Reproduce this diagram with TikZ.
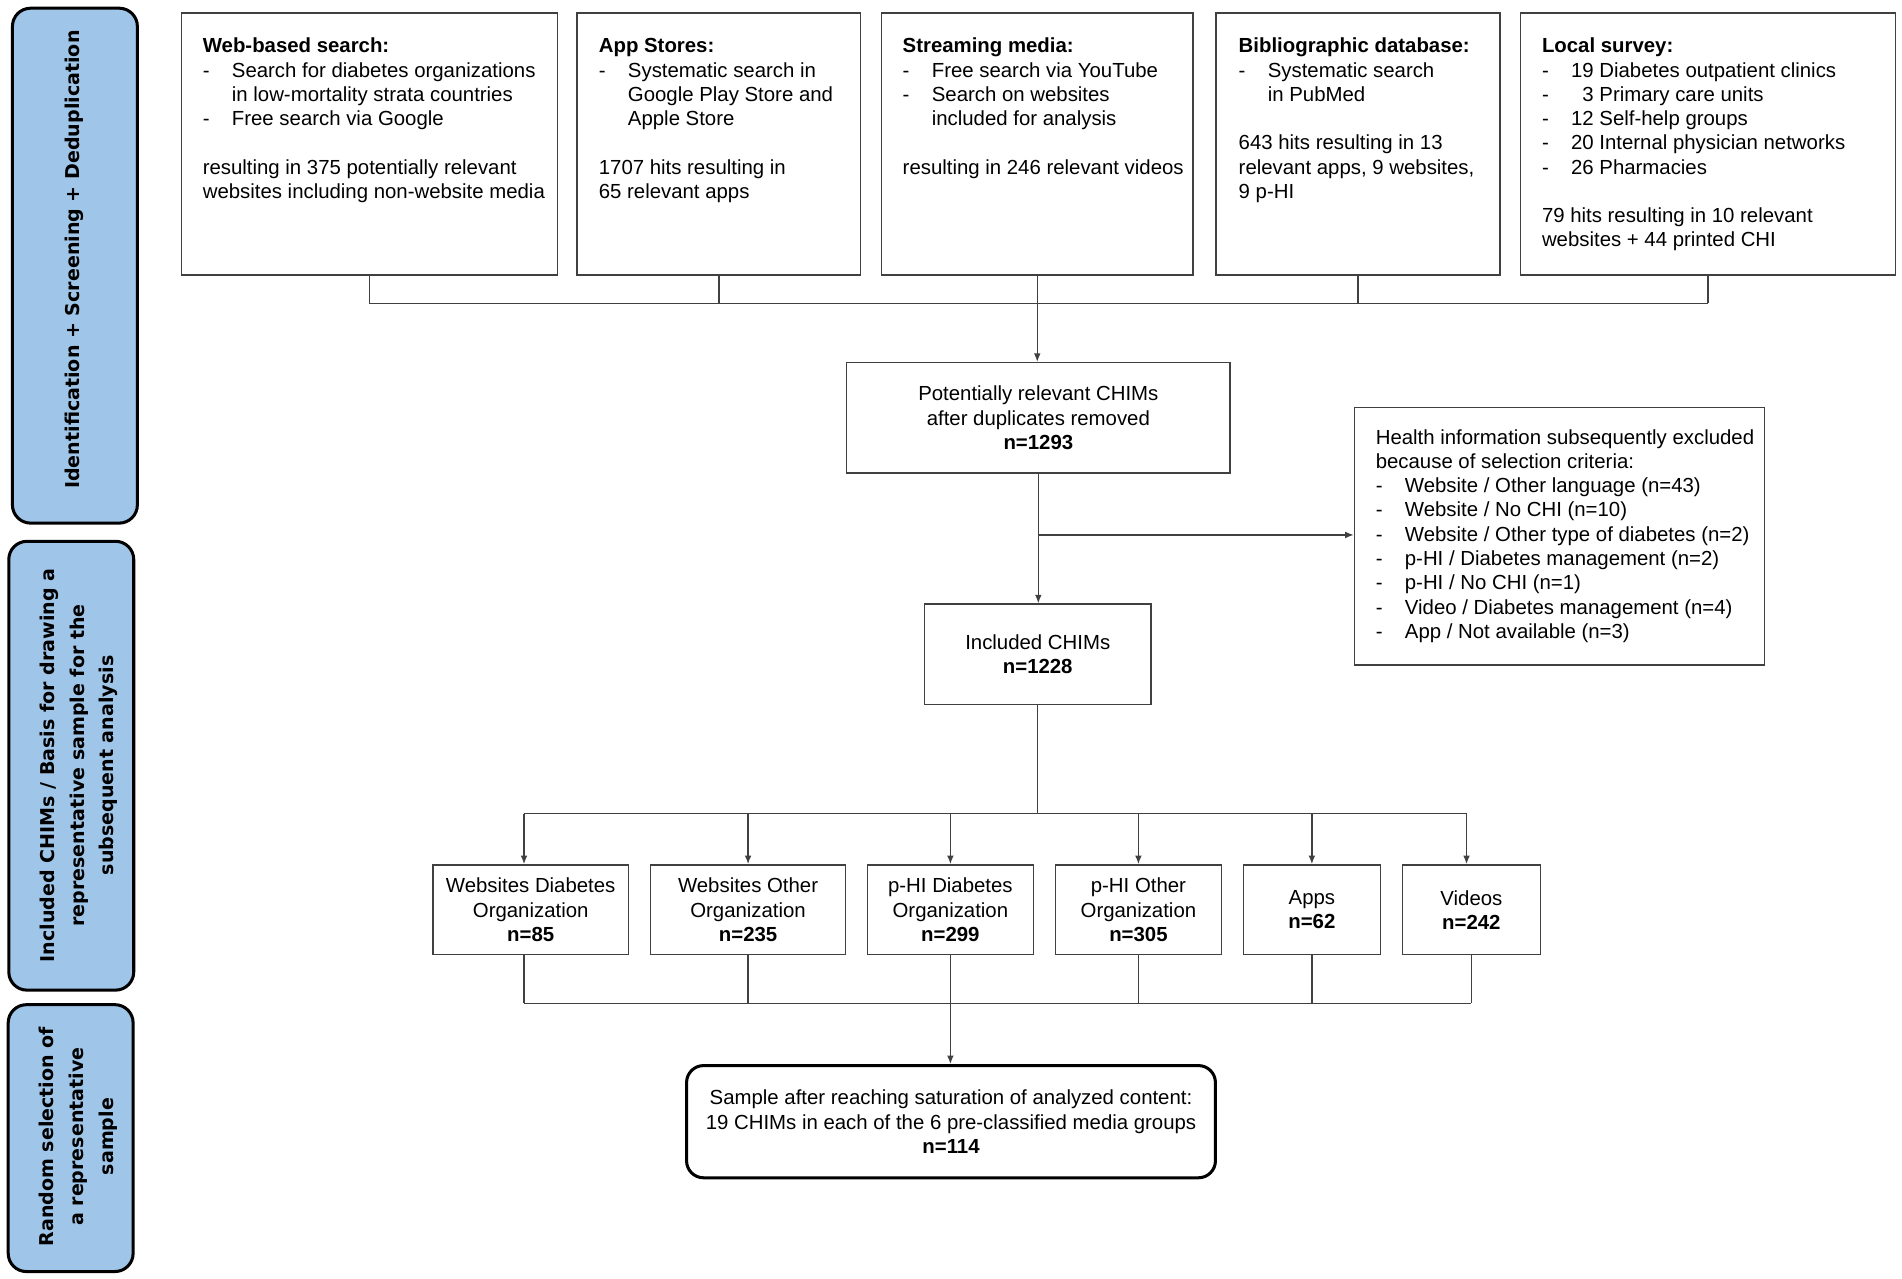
\documentclass[tikz,border=0pt]{standalone}
\usepackage{fontspec}
\setmainfont{Liberation Sans}
\newfontfamily\blfont{DejaVu Sans}
\usetikzlibrary{arrows.meta}
\definecolor{sky}{HTML}{9FC5E8}
\definecolor{linegray}{HTML}{404040}
\newcommand\dashitem[1]{\makebox[24pt][l]{-}#1}
\newcommand\contline[1]{\hspace*{24pt}#1}
\begin{document}
\begin{tikzpicture}[x=1pt,y=-1pt,
  box/.style={draw=linegray, line width=1.2pt, rectangle, inner sep=0pt, align=center,
    font=\fontsize{16.8}{20}\selectfont},
  nwbox/.style={box, anchor=north west},
  txt/.style={anchor=north west, inner sep=0pt, align=left, font=\fontsize{16.8}{20}\selectfont},
  phase/.style={draw=black, line width=2.5pt, fill=sky, rounded corners=15pt, anchor=north west, inner sep=0pt},
  phasetxt/.style={rotate=90, align=center, inner sep=0pt, font=\blfont\bfseries\fontsize{15.7}{24.5}\selectfont},
  conn/.style={draw=linegray, line width=1.1pt},
  arr/.style={conn, -{Latex[length=7pt,width=5.5pt]}},
  final/.style={draw=black, line width=2.5pt, rounded corners=14pt, inner sep=0pt, align=center,
    font=\fontsize{16.8}{20}\selectfont}
]
\useasboundingbox (0,0) rectangle (1568,1054.4);

% phase labels
\node[phase, minimum width=103pt, minimum height=424.5pt] (B1) at (9,5.5) {};
\node[phasetxt] (B1t) at (61,214) {Identification + Screening + Deduplication};
\node[phase, minimum width=103pt, minimum height=370pt] (B2) at (6,445) {};
\node[phasetxt] (B2t) at (65,631) {Included CHIMs / Basis for drawing a\\representative sample for the\\subsequent analysis};
\node[phase, minimum width=103pt, minimum height=220pt] (B3) at (5.5,827) {};
\node[phasetxt] (B3t) at (64.5,937) {Random selection of\\a representative\\sample};

% source boxes
\node[nwbox, minimum width=310pt, minimum height=216pt] (A) at (149,10) {};
\node[nwbox, minimum width=234pt, minimum height=216pt] (B) at (475,10) {};
\node[nwbox, minimum width=257pt, minimum height=216pt] (C) at (726,10) {};
\node[nwbox, minimum width=234pt, minimum height=216pt] (D) at (1002,10) {};
\node[nwbox, minimum width=309pt, minimum height=216pt] (E) at (1253,10) {};

\node[txt] (At) at (167,29.4) {\strut\textbf{Web-based search:}\\
  \dashitem{Search for diabetes organizations}\\
  \contline{in low-mortality strata countries}\\
  \dashitem{Free search via Google}\\[20pt]
  resulting in 375 potentially relevant\\
  websites including non-website media};
\node[txt] (Bt) at (493.5,29.4) {\strut\textbf{App Stores:}\\
  \dashitem{Systematic search in}\\
  \contline{Google Play Store and}\\
  \contline{Apple Store}\\[20pt]
  1707 hits resulting in\\
  65 relevant apps};
\node[txt] (Ct) at (744,29.4) {\strut\textbf{Streaming media:}\\
  \dashitem{Free search via YouTube}\\
  \dashitem{Search on websites}\\
  \contline{included for analysis}\\[20pt]
  resulting in 246 relevant videos};
\node[txt] (Dt) at (1021,29.4) {\strut\textbf{Bibliographic database:}\\
  \dashitem{Systematic search}\\
  \contline{in PubMed}\\[20pt]
  643 hits resulting in 13\\
  relevant apps, 9 websites,\\
  9 p-HI};
\node[txt] (Et) at (1271,29.4) {\strut\textbf{Local survey:}\\
  \dashitem{19 Diabetes outpatient clinics}\\
  \dashitem{\hphantom{1}3 Primary care units}\\
  \dashitem{12 Self-help groups}\\
  \dashitem{20 Internal physician networks}\\
  \dashitem{26 Pharmacies}\\[20pt]
  79 hits resulting in 10 relevant\\
  websites + 44 printed CHI};

% merged
\node[box, minimum width=316pt, minimum height=91pt] (P) at (856,344.5)
  {Potentially relevant CHIMs\\after duplicates removed\\\textbf{n=1293}};
\node[nwbox, minimum width=338pt, minimum height=212pt] (X) at (1116,335.5) {};
\node[txt] (Xt) at (1134,352) {\strut Health information subsequently excluded\\
  because of selection criteria:\\
  \dashitem{Website / Other language (n=43)}\\
  \dashitem{Website / No CHI (n=10)}\\
  \dashitem{Website / Other type of diabetes (n=2)}\\
  \dashitem{p-HI / Diabetes management (n=2)}\\
  \dashitem{p-HI / No CHI (n=1)}\\
  \dashitem{Video / Diabetes management (n=4)}\\
  \dashitem{App / Not available (n=3)}};
\node[box, minimum width=187pt, minimum height=83pt] (I) at (855.5,539.5)
  {Included CHIMs\\\textbf{n=1228}};

% media groups
\node[box, minimum width=161pt, minimum height=74pt] (W1) at (437.5,750) {Websites Diabetes\\Organization\\\textbf{n=85}};
\node[box, minimum width=161pt, minimum height=74pt] (W2) at (616.7,750) {Websites Other\\Organization\\\textbf{n=235}};
\node[box, minimum width=137pt, minimum height=74pt] (P1) at (783.5,750) {p-HI Diabetes\\Organization\\\textbf{n=299}};
\node[box, minimum width=137pt, minimum height=74pt] (P2) at (938.5,750) {p-HI Other\\Organization\\\textbf{n=305}};
\node[box, minimum width=113pt, minimum height=74pt] (Ap) at (1081.5,750) {Apps\\\textbf{n=62}};
\node[box, minimum width=114pt, minimum height=74pt] (V) at (1213,750) {Videos\\\textbf{n=242}};

\node[final, minimum width=436pt, minimum height=92.5pt] (S) at (784,924.7)
  {Sample after reaching saturation of analyzed content:\\19 CHIMs in each of the 6 pre-classified media groups\\\textbf{n=114}};

% connectors
\coordinate (h1) at (0,250);
\foreach \n in {A,B,C,D,E} \draw[conn] (\n.south) -- (\n.south |- h1);
\draw[conn] (A.south |- h1) -- (E.south |- h1);
\draw[arr] (C.south |- h1) -- (C.south |- P.north);

\coordinate (y441) at (0,441);
\draw[arr] (P.south) -- (P.south |- I.north);
\draw[arr] (P.south |- y441) -- (X.west |- y441);

\coordinate (h2) at (0,670.8);
\draw[conn] (I.south) -- (I.south |- h2);
\draw[conn] ([xshift=-5.5pt]W1.north |- h2) -- ([xshift=-4pt]V.north |- h2);
\draw[arr] ([xshift=-5.5pt]W1.north |- h2) -- ([xshift=-5.5pt]W1.north);
\foreach \n in {W2,P1,P2,Ap} \draw[arr] (\n.north |- h2) -- (\n.north);
\draw[arr] ([xshift=-4pt]V.north |- h2) -- ([xshift=-4pt]V.north);

\coordinate (h3) at (0,827);
\draw[conn] ([xshift=-5.5pt]W1.south) -- ([xshift=-5.5pt]W1.south |- h3);
\foreach \n in {W2,P1,P2,Ap,V} \draw[conn] (\n.south) -- (\n.south |- h3);
\draw[conn] ([xshift=-5.5pt]W1.south |- h3) -- (V.south |- h3);
\draw[arr] (P1.south) -- (P1.south |- S.north);
\end{tikzpicture}
\end{document}
